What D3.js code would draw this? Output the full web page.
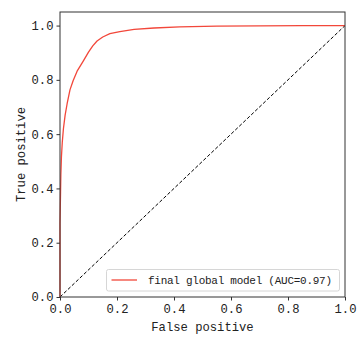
<!DOCTYPE html>
<html><head><meta charset="utf-8">
<script src="https://cdn.jsdelivr.net/npm/d3@7"></script>
<style>body{margin:0;background:#fff}text{font-family:"Liberation Mono",monospace;fill:#222}</style>
</head><body><svg id="c" width="358" height="340"></svg>
<script>
const fpr = [0, 0, 0.001, 0.002, 0.003, 0.005, 0.008, 0.012, 0.018, 0.025, 0.035, 0.046, 0.06, 0.081, 0.1, 0.115, 0.13, 0.15, 0.175, 0.21, 0.26, 0.33, 0.42, 0.55, 0.7, 0.85, 1.0];
const tpr = [0, 0.27, 0.33, 0.39, 0.45, 0.516, 0.57, 0.62, 0.67, 0.712, 0.763, 0.797, 0.832, 0.868, 0.902, 0.925, 0.943, 0.958, 0.97, 0.978, 0.986, 0.991, 0.995, 0.998, 0.999, 1.0, 1.0];
const diag = [0, 1];
const xTicks = [0, 0.2, 0.4, 0.6, 0.8, 1.0];
const yTicks = [0, 0.2, 0.4, 0.6, 0.8, 1.0];
const legendLabel = "final global model (AUC=0.97)";

const svg = d3.select("#c");
const L = 60, R = 345, T = 12, B = 297;
const x = d3.scaleLinear().domain([0, 1]).range([L, R]);
const y = d3.scaleLinear().domain([0, 1.05]).range([B, T]);

const line = d3.line().x(d => x(d[0])).y(d => y(d[1]));
svg.append("path").datum(diag.map(v => [v, v])).attr("d", line)
  .attr("fill", "none").attr("stroke", "#000").attr("stroke-width", 1).attr("stroke-dasharray", "3.5,2");
svg.append("path").datum(fpr.map((f, i) => [f, tpr[i]]))
  .attr("d", d3.line().curve(d3.curveLinear).x(d => x(d[0])).y(d => y(d[1])))
  .attr("fill", "none").attr("stroke", "#f2473a").attr("stroke-width", 1.3).attr("stroke-linejoin", "round");

const xa = svg.append("g").attr("transform", `translate(0,${B})`)
  .call(d3.axisBottom(x).tickValues(xTicks).tickFormat(d3.format(".1f")).tickSize(3.5).tickPadding(4));
const ya = svg.append("g").attr("transform", `translate(${L},0)`)
  .call(d3.axisLeft(y).tickValues(yTicks).tickFormat(d3.format(".1f")).tickSize(3.5).tickPadding(3));
[xa, ya].forEach(a => {
  a.select(".domain").remove();
  a.selectAll("line").attr("stroke", "#333");
  a.selectAll("text").style("font-size", "12.2px").attr("fill", "#222");
});
svg.append("rect").attr("x", L).attr("y", T).attr("width", R - L).attr("height", B - T)
  .attr("fill", "none").attr("stroke", "#333").attr("stroke-width", 1);

svg.append("text").attr("x", (L + R) / 2).attr("y", 331).attr("text-anchor", "middle")
  .style("font-size", "12.2px").text("False positive");
svg.append("text").attr("transform", `translate(25,${(T + B) / 2}) rotate(-90)`).attr("text-anchor", "middle")
  .style("font-size", "12.2px").text("True positive");

const lg = svg.append("g");
lg.append("rect").attr("x", 106.5).attr("y", 269.5).attr("width", 233).attr("height", 21.5).attr("rx", 2)
  .attr("fill", "#fff").attr("fill-opacity", 0.8).attr("stroke", "#d6d6d6").attr("stroke-width", 1);
lg.append("line").attr("x1", 111.5).attr("x2", 137).attr("y1", 280).attr("y2", 280)
  .attr("stroke", "#f2473a").attr("stroke-width", 1.3);
lg.append("text").attr("x", 148).attr("y", 284).style("font-size", "11px")
  .attr("textLength", 184).attr("lengthAdjust", "spacing").text(legendLabel);
</script></body></html>
